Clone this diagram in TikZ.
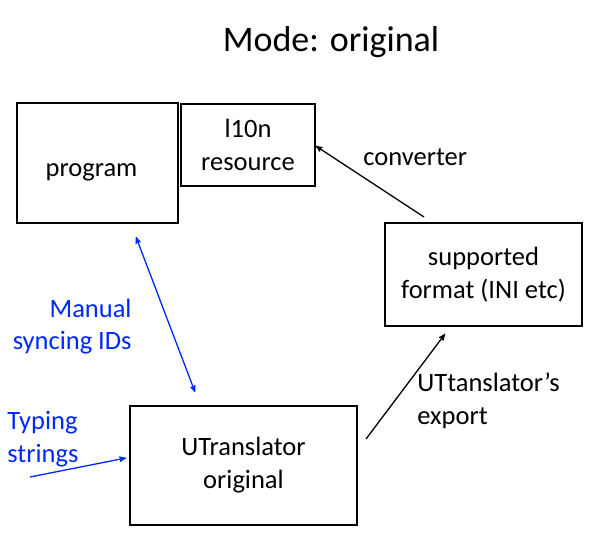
\documentclass[tikz,border=0pt]{standalone}
\usepackage{fontspec}
\setmainfont{Carlito}
\usepackage{tikz}
\usetikzlibrary{calc,positioning,arrows}
\definecolor{syncblue}{RGB}{0,40,255}

\begin{document}
\begin{tikzpicture}[x=1pt,y=-1pt,>=stealth',thick,
    box/.style={draw,line width=1.6pt,inner sep=0pt,align=center,font=\fontsize{26.5}{33}\selectfont},
    lbl/.style={align=left,font=\fontsize{26.5}{32.5}\selectfont},
    note/.style={lbl,text=syncblue}]
    \useasboundingbox (0,0) rectangle (608,537);
    \node[font=\fontsize{36}{40}\selectfont] (title) at (331,42) {Mode: original};
    \node[box,minimum width=161pt,minimum height=120pt,text height=28pt,text depth=0pt] (program) at (97.5,163) {program\hspace*{12pt}};
    \node[box,minimum width=134pt,minimum height=82pt] (res) at (248,145) {l10n\\resource};
    \node[box,minimum width=197pt,minimum height=103pt] (fmt) at (483.5,274.5) {supported\\format (INI etc)};
    \node[box,minimum width=227pt,minimum height=119pt] (ut) at (243.5,465.5) {UTranslator\\original};
    %
    \coordinate (conv_s) at (424,217);
    \coordinate (exp_s) at (366,439);
    \coordinate (exp_e) at (445,334);
    \coordinate (sync_a) at (136,237);
    \coordinate (sync_b) at (195,392);
    \coordinate (typ_s) at (30,477);
    \coordinate (typ_e) at (126,458);
    \node[lbl,anchor=base west,inner xsep=0pt] (conv_l) at (363,166) {converter};
    \node[lbl,anchor=base west,inner xsep=0pt] (exp_l) at (417,424) {UTtanslator’s\\export};
    \node[note,anchor=base east,align=right,inner xsep=0pt] (sync_l) at (132,350) {Manual\\syncing IDs};
    \node[note,anchor=base west,inner xsep=0pt] (typ_l) at (7,462) {Typing\\strings};

    \draw[->,line width=1.3pt] (conv_s) -- (res.east|-0,146);
    \draw[->,line width=1.3pt] (exp_s) -- (exp_e);
    \draw[<->,line width=1.3pt,syncblue] (sync_a) -- (sync_b);
    \draw[->,line width=1.3pt,syncblue] (typ_s) -- (typ_e);
\end{tikzpicture}
\end{document}
